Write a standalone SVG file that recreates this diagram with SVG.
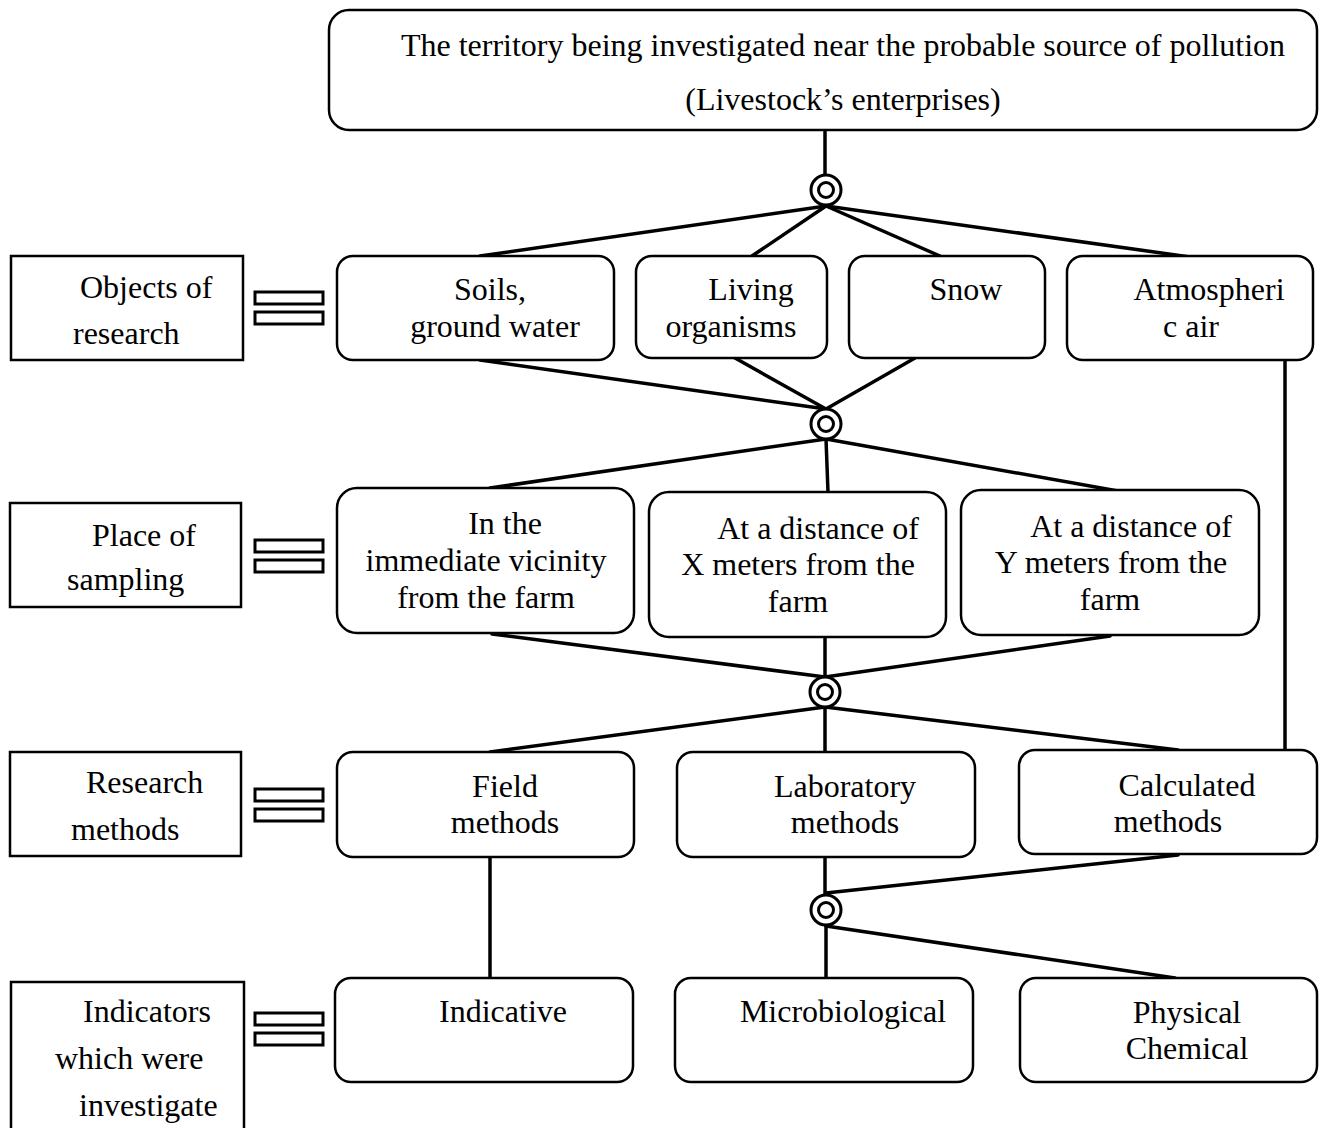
<svg xmlns="http://www.w3.org/2000/svg" width="1323" height="1128" viewBox="0 0 1323 1128">
<style>
.box{fill:#fff;stroke:#000;stroke-width:2.5}
.lbl{fill:#fff;stroke:#000;stroke-width:2.5}
.bar{fill:#fff;stroke:#000;stroke-width:3}
.ln{stroke:#000;stroke-width:3.5;fill:none;stroke-linecap:round}
.cir{fill:#fff;stroke:#000;stroke-width:3}
text{font-family:"Liberation Serif","Times New Roman",serif;font-size:32px;fill:#000}
.c{text-anchor:middle}
</style>
<rect width="1323" height="1128" fill="#fff"/>
<g id="connectors">
<line class="ln" x1="825" y1="130" x2="825" y2="174"/>
<line class="ln" x1="826" y1="206" x2="480" y2="256"/>
<line class="ln" x1="826" y1="206" x2="752" y2="256"/>
<line class="ln" x1="826" y1="206" x2="940" y2="256"/>
<line class="ln" x1="826" y1="206" x2="1190" y2="257"/>
<line class="ln" x1="480" y1="360" x2="826" y2="409"/>
<line class="ln" x1="735" y1="358" x2="826" y2="409"/>
<line class="ln" x1="915" y1="358" x2="826" y2="409"/>
<line class="ln" x1="826" y1="439" x2="490" y2="488"/>
<line class="ln" x1="826" y1="439" x2="828" y2="492"/>
<line class="ln" x1="826" y1="439" x2="1118" y2="491"/>
<line class="ln" x1="492" y1="634" x2="825" y2="677"/>
<line class="ln" x1="825" y1="637" x2="825" y2="677"/>
<line class="ln" x1="1110" y1="636" x2="825" y2="677"/>
<line class="ln" x1="825" y1="707" x2="490" y2="752"/>
<line class="ln" x1="825" y1="707" x2="825" y2="752"/>
<line class="ln" x1="825" y1="707" x2="1178" y2="750"/>
<line class="ln" x1="1285" y1="360" x2="1285" y2="750"/>
<line class="ln" x1="490" y1="857" x2="490" y2="978"/>
<line class="ln" x1="825" y1="857" x2="825" y2="894"/>
<line class="ln" x1="1178" y1="855" x2="826" y2="893"/>
<line class="ln" x1="826" y1="926" x2="826" y2="978"/>
<line class="ln" x1="826" y1="926" x2="1175" y2="978"/>
</g>
<g id="junction1"><circle class="cir" cx="826" cy="190" r="15"/><circle class="cir" cx="826" cy="190" r="7.5"/></g>
<g id="junction2"><circle class="cir" cx="826" cy="424" r="15"/><circle class="cir" cx="826" cy="424" r="7.5"/></g>
<g id="junction3"><circle class="cir" cx="825" cy="692" r="15"/><circle class="cir" cx="825" cy="692" r="7.5"/></g>
<g id="junction4"><circle class="cir" cx="826" cy="910" r="15"/><circle class="cir" cx="826" cy="910" r="7.5"/></g>

<g id="territory">
<rect class="box" x="329" y="10" width="988" height="120" rx="20"/>
<text class="c" x="843" y="56">The territory being investigated near the probable source of pollution</text>
<text class="c" x="843" y="110">(Livestock’s enterprises)</text>
</g>

<g id="objects-label">
<rect class="lbl" x="11" y="256" width="232" height="104"/>
<text x="80" y="298">Objects of</text>
<text x="73" y="344">research</text>
<rect class="bar" x="255" y="292" width="68" height="12"/>
<rect class="bar" x="255" y="312" width="68" height="12"/>
</g>
<g id="soils">
<rect class="box" x="337" y="256" width="277" height="104" rx="16"/>
<text class="c" x="490" y="300">Soils,</text>
<text class="c" x="495" y="337">ground water</text>
</g>
<g id="living">
<rect class="box" x="636" y="256" width="191" height="102" rx="16"/>
<text class="c" x="751" y="300">Living</text>
<text class="c" x="731" y="337">organisms</text>
</g>
<g id="snow">
<rect class="box" x="849" y="256" width="196" height="102" rx="16"/>
<text class="c" x="966" y="300">Snow</text>
</g>
<g id="atmospheric">
<rect class="box" x="1067" y="256" width="246" height="104" rx="16"/>
<text class="c" x="1209" y="300">Atmospheri</text>
<text class="c" x="1191" y="337">c air</text>
</g>

<g id="place-label">
<rect class="lbl" x="10" y="503" width="231" height="104"/>
<text x="92" y="546">Place of</text>
<text x="67" y="590">sampling</text>
<rect class="bar" x="255" y="540" width="68" height="12"/>
<rect class="bar" x="255" y="560" width="68" height="12"/>
</g>
<g id="vicinity">
<rect class="box" x="337" y="488" width="297" height="145" rx="20"/>
<text class="c" x="505" y="534">In the</text>
<text class="c" x="486" y="571">immediate vicinity</text>
<text class="c" x="486" y="608">from the farm</text>
</g>
<g id="distance-x">
<rect class="box" x="649" y="492" width="297" height="145" rx="20"/>
<text class="c" x="818" y="539">At a distance of</text>
<text class="c" x="798" y="575">X meters from the</text>
<text class="c" x="798" y="612">farm</text>
</g>
<g id="distance-y">
<rect class="box" x="961" y="490" width="298" height="145" rx="20"/>
<text class="c" x="1131" y="537">At a distance of</text>
<text class="c" x="1111" y="573">Y meters from the</text>
<text class="c" x="1110" y="610">farm</text>
</g>

<g id="methods-label">
<rect class="lbl" x="10" y="752" width="231" height="104"/>
<text x="86" y="793">Research</text>
<text x="71" y="840">methods</text>
<rect class="bar" x="255" y="789" width="68" height="12"/>
<rect class="bar" x="255" y="809" width="68" height="12"/>
</g>
<g id="field">
<rect class="box" x="337" y="752" width="297" height="105" rx="16"/>
<text class="c" x="505" y="797">Field</text>
<text class="c" x="505" y="833">methods</text>
</g>
<g id="laboratory">
<rect class="box" x="677" y="752" width="298" height="105" rx="16"/>
<text class="c" x="845" y="797">Laboratory</text>
<text class="c" x="845" y="833">methods</text>
</g>
<g id="calculated">
<rect class="box" x="1019" y="750" width="298" height="104" rx="16"/>
<text class="c" x="1187" y="796">Calculated</text>
<text class="c" x="1168" y="832">methods</text>
</g>

<g id="indicators-label">
<rect class="lbl" x="11" y="982" width="233" height="160"/>
<text x="83" y="1022">Indicators</text>
<text x="55" y="1069">which were</text>
<text x="79" y="1116">investigate</text>
<rect class="bar" x="255" y="1013" width="68" height="12"/>
<rect class="bar" x="255" y="1033" width="68" height="12"/>
</g>
<g id="indicative">
<rect class="box" x="335" y="978" width="298" height="104" rx="16"/>
<text class="c" x="503" y="1022">Indicative</text>
</g>
<g id="microbiological">
<rect class="box" x="675" y="978" width="298" height="104" rx="16"/>
<text class="c" x="843" y="1022">Microbiological</text>
</g>
<g id="physical-chemical">
<rect class="box" x="1020" y="978" width="297" height="104" rx="16"/>
<text class="c" x="1187" y="1023">Physical</text>
<text class="c" x="1187" y="1059">Chemical</text>
</g>
</svg>
